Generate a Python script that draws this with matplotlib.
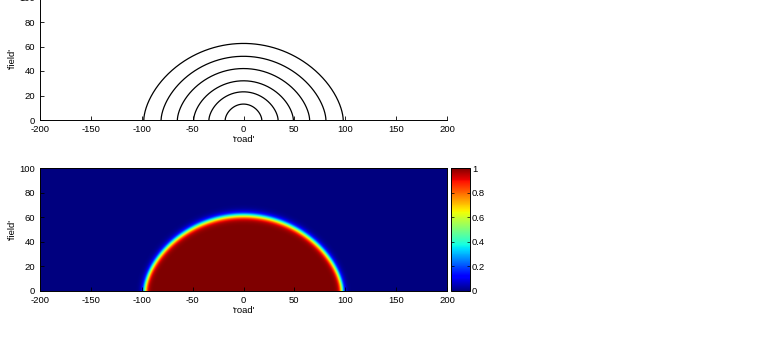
import numpy as np
import matplotlib
matplotlib.use("Agg")
import matplotlib.pyplot as plt

# contour half-widths at the road (y=0) and peak heights
half_widths = [98, 81, 65, 49, 34, 18]
peak_heights = [62.5, 52, 42, 32, 23, 13]
cbar_ticks = [0, 0.2, 0.4, 0.6, 0.8, 1]
cbar_labels = ["0", "0.2", "0.4", "0.6", "0.8", "1"]
x_ticks = [-200, -150, -100, -50, 0, 50, 100, 150, 200]
y_ticks = [0, 20, 40, 60, 80, 100]

plt.rcParams['font.family'] = ['Liberation Sans', 'DejaVu Sans']
plt.rcParams['axes.unicode_minus'] = False
FS = 6.8

fig = plt.figure(figsize=(7.63, 3.55), dpi=100)

# top: level curves
ax1 = fig.add_axes([40/763, 1 - 120/355, 407/763, 122.5/355])
t = np.linspace(0, np.pi, 400)
for w, h in zip(half_widths, peak_heights):
    xs = w * np.cos(t)
    ys = h * np.sin(t) ** 1.2
    ax1.plot(xs, ys, color='black', lw=0.9)
ax1.set_xlim(-200, 200)
ax1.set_ylim(0, 100)
ax1.set_xticks(x_ticks)
ax1.set_yticks(y_ticks)
ax1.spines['top'].set_visible(False)
ax1.spines['right'].set_visible(False)
ax1.tick_params(direction='in', labelsize=FS, length=3, width=0.6)
for s in ax1.spines.values():
    s.set_linewidth(0.7)
ax1.set_xlabel("'road'", fontsize=FS, labelpad=1)
ax1.set_ylabel("'field'", fontsize=FS, labelpad=2)

# bottom: smoothed indicator of the outer curve
ax2 = fig.add_axes([40/763, 1 - 291/355, 407/763, 123/355])
gx = np.linspace(-200, 200, 801)
gy = np.linspace(0, 100, 301)
X, Y = np.meshgrid(gx, gy)
W, H = 97, 61.5
g = (X / W) ** 2 + (Y / H) ** (1 / 0.6) - 1
dgy, dgx = np.gradient(g, gy, gx)
d = g / np.maximum(np.hypot(dgx, dgy), 1e-6)
Z = 1 / (1 + np.exp(np.clip(d / 1.5, -50, 50)))
im = ax2.imshow(Z, extent=[-200, 200, 0, 100], origin='lower', cmap='jet',
                vmin=0, vmax=1, aspect='auto', interpolation='bilinear')
ax2.set_xticks(x_ticks)
ax2.set_yticks(y_ticks)
ax2.tick_params(direction='in', labelsize=FS, length=3, width=0.6)
for s in ax2.spines.values():
    s.set_linewidth(0.7)
ax2.set_xlabel("'road'", fontsize=FS, labelpad=1)
ax2.set_ylabel("'field'", fontsize=FS, labelpad=2)

cax = fig.add_axes([451/763, 1 - 291/355, 19/763, 123/355])
cb = fig.colorbar(im, cax=cax, ticks=cbar_ticks)
cb.ax.set_yticklabels(cbar_labels)
cb.ax.tick_params(direction='in', labelsize=FS, length=2, width=0.5,
                  left=True, right=True, pad=1.5)
cb.outline.set_linewidth(0.7)

fig.savefig("out.png", dpi=100)
